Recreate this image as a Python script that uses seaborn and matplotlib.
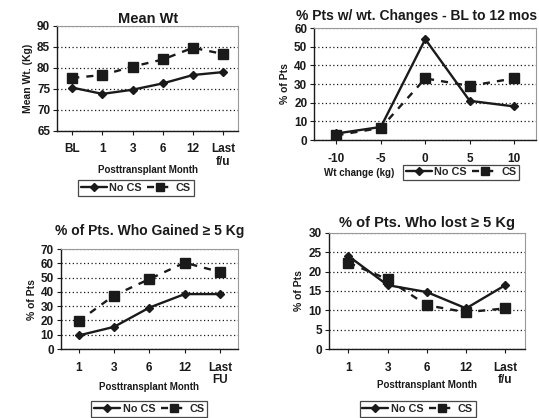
import matplotlib
matplotlib.use("Agg")
import matplotlib.pyplot as plt
import seaborn as sns
import pandas as pd
from matplotlib.lines import Line2D

# --- data ---
months_a = ["BL", "1", "3", "6", "12", "Last\nf/u"]
mean_wt_no_cs = [75.3, 73.8, 74.8, 76.3, 78.3, 79.0]
mean_wt_cs = [77.6, 78.3, 80.3, 82.0, 84.8, 83.3]

wt_change = [-10, -5, 0, 5, 10]
chg_no_cs = [3.5, 7.0, 54.0, 21.0, 18.0]
chg_cs = [2.5, 6.5, 33.0, 29.0, 33.0]

months_b = ["1", "3", "6", "12", "Last\nFU"]
gain_no_cs = [9.5, 15.5, 29.0, 38.5, 38.5]
gain_cs = [19.5, 37.5, 49.0, 60.5, 54.0]

months_c = ["1", "3", "6", "12", "Last\nf/u"]
lost_no_cs = [24.0, 16.5, 14.7, 10.5, 16.5]
lost_cs = [22.3, 18.0, 11.3, 9.5, 10.5]

sns.set_style("white")
plt.rcParams["font.family"] = ["Liberation Sans", "DejaVu Sans"]
plt.rcParams["font.weight"] = "bold"

INK = "#1a1a1a"


def make_df(x, no_cs, cs):
    return pd.DataFrame({
        "x": list(x) * 2,
        "val": list(no_cs) + list(cs),
        "grp": ["No CS"] * len(no_cs) + ["CS"] * len(cs),
    })


def draw(ax, x, no_cs, cs):
    df = make_df(x, no_cs, cs)
    sns.lineplot(data=df, x="x", y="val", hue="grp", style="grp",
                 palette={"No CS": INK, "CS": INK},
                 markers={"No CS": "D", "CS": "s"},
                 dashes={"No CS": "", "CS": (3, 3)},
                 markersize=0, linewidth=1.7, legend=False, ax=ax)
    # markers drawn separately so sizes differ
    ax.plot(x, no_cs, "D", color=INK, markersize=4.5, zorder=5)
    ax.plot(x, cs, "s", color=INK, markersize=7, zorder=5)


def style(ax, ylim, ystep, ylabel, xlabel, title, title_size=10, pad=2,
          xlab_y=-0.33, title_x=0.5):
    ax.set_ylim(*ylim)
    ax.set_yticks(range(ylim[0], ylim[1] + 1, ystep))
    ax.yaxis.grid(True, linestyle=(0, (1, 2)), color=INK, linewidth=0.9)
    ax.set_axisbelow(True)
    for s in ["left", "bottom"]:
        ax.spines[s].set_color(INK)
        ax.spines[s].set_linewidth(1.0)
    for s in ["top", "right"]:
        ax.spines[s].set_color("#999999")
        ax.spines[s].set_linewidth(0.8)
    ax.tick_params(axis="both", labelsize=8.5, colors=INK, length=3,
                   direction="out", left=True, bottom=True)
    ax.tick_params(axis="y", pad=2)
    ax.set_ylabel(ylabel, fontsize=7.5, fontweight="bold", color=INK, labelpad=3)
    ax.set_xlabel(xlabel, fontsize=7, fontweight="bold", color=INK)
    ax.xaxis.set_label_coords(0.5, xlab_y)
    ax.set_title(title, fontsize=title_size, fontweight="bold", color=INK,
                 pad=pad, x=title_x)
    for lab in ax.get_xticklabels() + ax.get_yticklabels():
        lab.set_fontweight("bold")


def cat_axis(ax, labels):
    n = len(labels)
    ax.set_xlim(-0.5, n - 0.5)
    ax.set_xticks(range(n))
    ax.set_xticklabels(labels, va="top", linespacing=1.1)
    ax.set_xticks([i - 0.5 for i in range(n + 1)], minor=True)
    ax.tick_params(axis="x", which="major", length=0, pad=6)
    ax.tick_params(axis="x", which="minor", length=3, color=INK)


handles = [
    Line2D([], [], color=INK, linewidth=1.7, marker="D", markersize=4.5),
    Line2D([], [], color=INK, linewidth=1.7, linestyle=(0, (3, 3)),
           marker="s", markersize=6),
]


def legend(fig, x, y):
    leg = fig.legend(handles, ["No CS", "CS"], loc="center",
                     bbox_to_anchor=(x, y), ncol=2, frameon=True,
                     fancybox=False, edgecolor=INK,
                     handlelength=2.4, columnspacing=0.5, handletextpad=0.25,
                     borderpad=0.25, borderaxespad=0,
                     prop={"weight": "bold", "size": 7.8})
    leg.get_frame().set_linewidth(0.9)


fig = plt.figure(figsize=(5.39, 4.18), dpi=100)

# panel 1: mean weight
ax1 = fig.add_axes([0.106, 0.687, 0.336, 0.251])
draw(ax1, list(range(len(months_a))), mean_wt_no_cs, mean_wt_cs)
cat_axis(ax1, months_a)
style(ax1, (65, 90), 5, "Mean Wt. (Kg)", "Posttransplant Month", "Mean Wt",
      10.5, xlab_y=-0.33)
legend(fig, 0.252, 0.55)

# panel 2: weight change distribution
ax2 = fig.add_axes([0.583, 0.665, 0.412, 0.268])
draw(ax2, list(range(len(wt_change))), chg_no_cs, chg_cs)
cat_axis(ax2, [str(v) for v in wt_change])
style(ax2, (0, 60), 10, "% of Pts", "", "% Pts w/ wt. Changes - BL to 12 mos",
      10.0, pad=6, title_x=0.46)
fig.text(0.666, 0.585, "Wt change (kg)", fontsize=7, fontweight="bold",
         color=INK, ha="center", va="center")
legend(fig, 0.855, 0.588)

# panel 3: gained >= 5 kg
ax3 = fig.add_axes([0.113, 0.165, 0.328, 0.239])
draw(ax3, list(range(len(months_b))), gain_no_cs, gain_cs)
cat_axis(ax3, months_b)
style(ax3, (0, 70), 10, "% of Pts", "Posttransplant Month",
      "% of Pts. Who Gained \u2265 5 Kg", 10, pad=10, xlab_y=-0.33)
legend(fig, 0.277, 0.022)

# panel 4: lost >= 5 kg
ax4 = fig.add_axes([0.610, 0.165, 0.364, 0.278])
draw(ax4, list(range(len(months_c))), lost_no_cs, lost_cs)
cat_axis(ax4, months_c)
style(ax4, (0, 30), 5, "% of Pts", "Posttransplant Month",
      "% of Pts. Who lost \u2265 5 Kg", 10.5, pad=4, xlab_y=-0.27)
legend(fig, 0.775, 0.022)

fig.savefig("out.png", dpi=100, facecolor="white")
